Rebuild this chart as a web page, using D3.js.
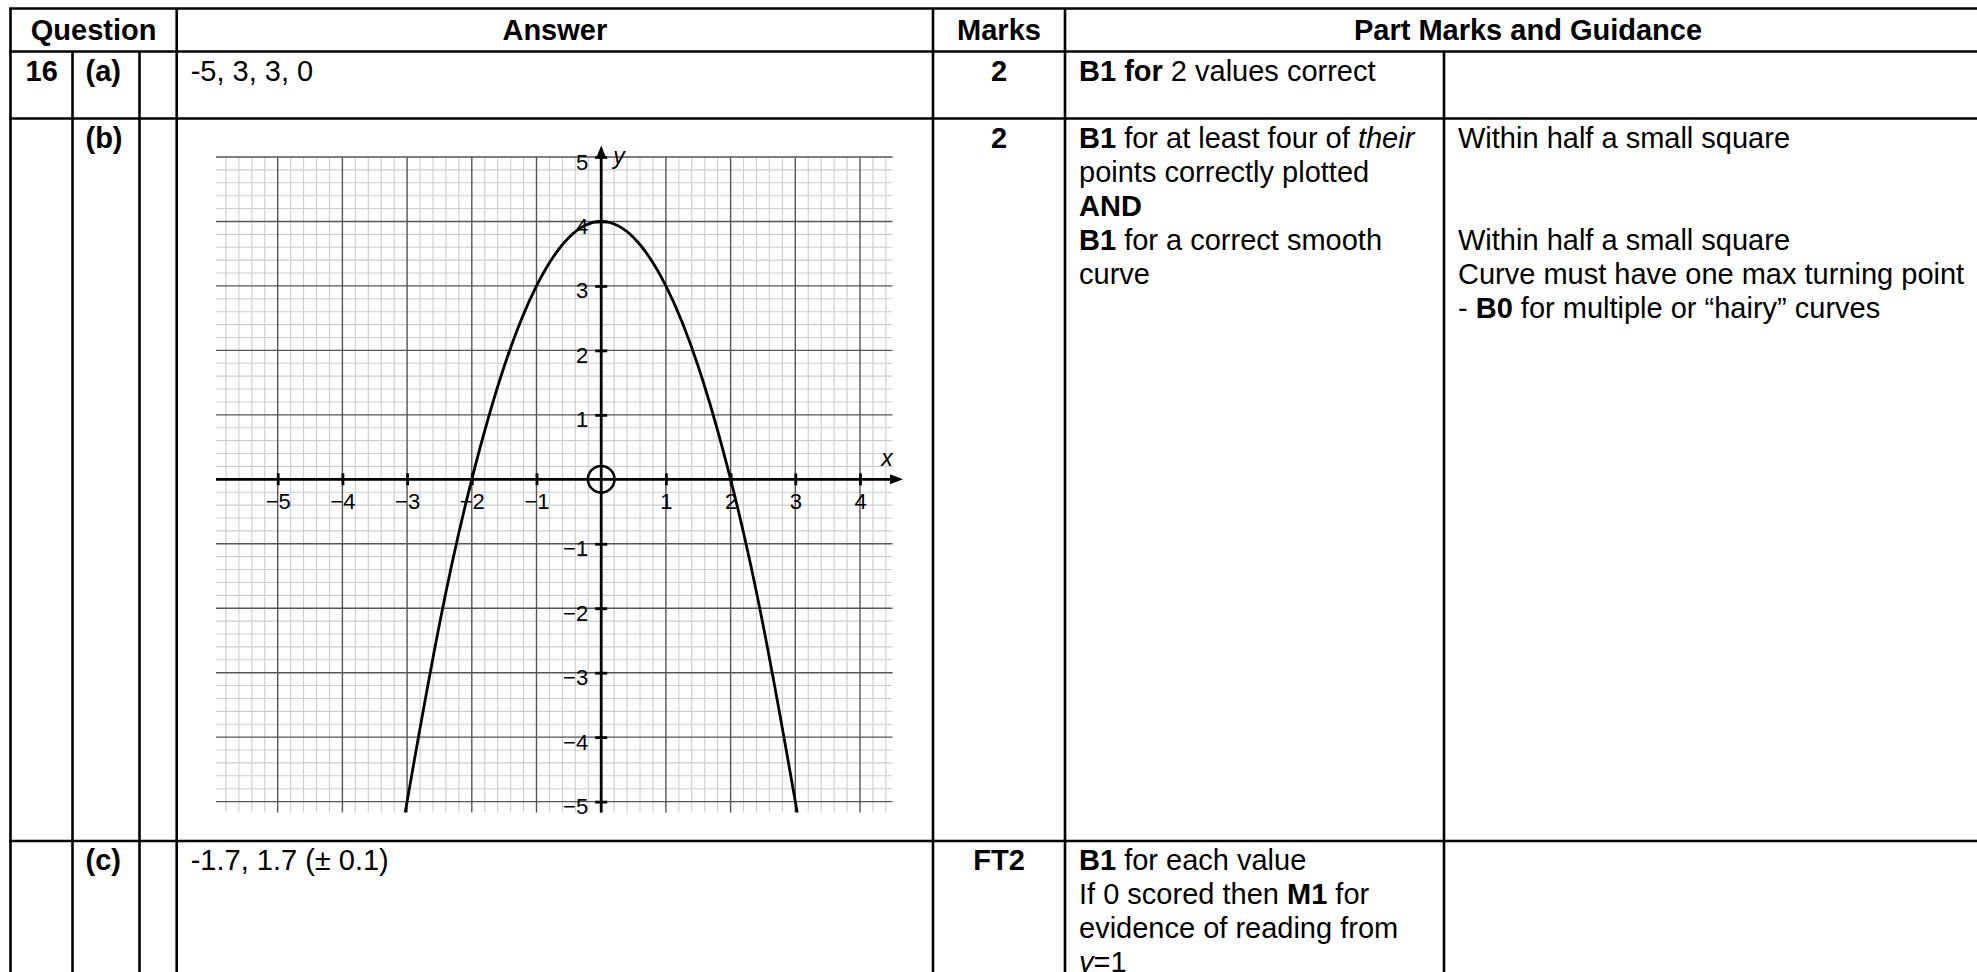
<!DOCTYPE html>
<html>
<head>
<meta charset="utf-8">
<script src="https://cdn.jsdelivr.net/npm/d3@7"></script>
<style>
    body { margin: 0; background: #fff; }
    svg { display: block; font-family: "Liberation Sans", Arial, sans-serif; }
</style>
</head>
<body>
<div id="chart"></div>
<script>
"use strict";

// points (x, y)
const curveX = [-3.1, -3, -2.5, -2, -1.5, -1, -0.5, 0, 0.5, 1, 1.5, 2, 2.5, 3, 3.1]
const curveY = [-5.61, -5, -2.25, 0, 1.75, 3, 3.75, 4, 3.75, 3, 1.75, 0, -2.25, -5, -5.61]

// axis tick values
const xTicks = [-5, -4, -3, -2, -1, 1, 2, 3, 4]
const yTicks = [-5, -4, -3, -2, -1, 1, 2, 3, 4, 5]

// table text, one entry per row (a), (b), (c)
const headers = ["Question", "Answer", "Marks", "Part Marks and Guidance"]
const questionNo = "16"
const partLabels = ["(a)", "(b)", "(c)"]
const answers = ["-5, 3, 3, 0", "", "-1.7, 1.7 (\u00b1 0.1)"]
const marks = ["2", "2", "FT2"]
const partMarks = [
    ["**B1 for** 2 values correct"],
    ["**B1** for at least four of _their_", "points correctly plotted", "**AND**", "**B1** for a correct smooth", "curve"],
    ["**B1** for each value", "If 0 scored then **M1** for", "evidence of reading from", "_y_=1"]
]
const guidance = [
    [],
    ["Within half a small square", "", "", "Within half a small square", "Curve must have one max turning point", "- **B0** for multiple or \u201chairy\u201d curves"],
    []
]

// layout
const W = 1977, H = 972
const cols = [10.5, 72.5, 139.5, 176.7, 933, 1065, 1444, 1991]
const rows = [8.5, 51.5, 118.5, 841, 1010]
const lineH = 34
const firstBase = 29

const svg = d3.select("#chart").append("svg")
    .attr("width", W)
    .attr("height", H)

// ---------- graph ----------
const x = d3.scaleLinear().domain([-5, 4]).range([277.7, 860])
const y = d3.scaleLinear().domain([5, -5]).range([157, 801.6])
const gridLeft = 216, gridRight = 892.5, gridBottom = 812.5

const graph = svg.append("g")

// minor grid (every 0.2)
const minorX = d3.range(-29, 23).map(i => i / 5).filter(v => Math.abs(v - Math.round(v)) > 1e-6)
const minorY = d3.range(-25, 26).map(i => i / 5).filter(v => Math.abs(v - Math.round(v)) > 1e-6)
graph.selectAll(".minor-v").data(minorX).enter().append("line")
    .attr("x1", d => x(d)).attr("x2", d => x(d))
    .attr("y1", y(5)).attr("y2", gridBottom)
    .attr("stroke", "#cdcdcd").attr("stroke-width", 1.1)
graph.selectAll(".minor-h").data(minorY).enter().append("line")
    .attr("x1", gridLeft).attr("x2", gridRight)
    .attr("y1", d => y(d)).attr("y2", d => y(d))
    .attr("stroke", "#cdcdcd").attr("stroke-width", 1.1)

// major grid (every unit)
graph.selectAll(".major-v").data(d3.range(-5, 5)).enter().append("line")
    .attr("x1", d => x(d)).attr("x2", d => x(d))
    .attr("y1", y(5)).attr("y2", gridBottom)
    .attr("stroke", "#555").attr("stroke-width", 1.4)
graph.selectAll(".major-h").data(d3.range(-5, 6)).enter().append("line")
    .attr("x1", gridLeft).attr("x2", gridRight)
    .attr("y1", d => y(d)).attr("y2", d => y(d))
    .attr("stroke", "#555").attr("stroke-width", 1.4)

// x axis
const fmt = d => d < 0 ? "\u2212" + Math.abs(d) : String(d)
const xAxis = graph.append("g")
    .attr("transform", "translate(0," + y(0) + ")")
    .call(d3.axisBottom(x).tickValues(xTicks).tickFormat(fmt).tickSize(6))
xAxis.select(".domain").remove()
xAxis.selectAll(".tick line").attr("y1", -6).attr("y2", 6)
    .attr("stroke", "#000").attr("stroke-width", 2.8)
xAxis.selectAll(".tick text")
    .attr("y", 30).attr("dy", null)
    .attr("font-size", 22).attr("font-family", "Liberation Sans, Arial, sans-serif")
    .attr("fill", "#000")

// y axis
const yAxis = graph.append("g")
    .attr("transform", "translate(" + x(0) + ",0)")
    .call(d3.axisLeft(y).tickValues(yTicks).tickFormat(fmt).tickSize(6))
yAxis.select(".domain").remove()
yAxis.selectAll(".tick line").attr("x1", -6).attr("x2", 6)
    .attr("stroke", "#000").attr("stroke-width", 2.8)
yAxis.selectAll(".tick text")
    .attr("x", -13).attr("y", 12).attr("dy", null)
    .attr("font-size", 22).attr("font-family", "Liberation Sans, Arial, sans-serif")
    .attr("fill", "#000")

// axis lines with arrows
graph.append("line")
    .attr("x1", gridLeft).attr("x2", 895)
    .attr("y1", y(0)).attr("y2", y(0))
    .attr("stroke", "#000").attr("stroke-width", 2.8)
graph.append("path")
    .attr("d", "M" + 903 + "," + y(0) + "L" + 890 + "," + (y(0) - 5) + "L" + 890 + "," + (y(0) + 5) + "Z")
    .attr("fill", "#000")
graph.append("line")
    .attr("x1", x(0)).attr("x2", x(0))
    .attr("y1", gridBottom).attr("y2", 154)
    .attr("stroke", "#000").attr("stroke-width", 2.8)
graph.append("path")
    .attr("d", "M" + x(0) + "," + 145.5 + "L" + (x(0) - 5) + "," + 158 + "L" + (x(0) + 5) + "," + 158 + "Z")
    .attr("fill", "#000")

graph.append("text")
    .attr("x", 887).attr("y", 466)
    .attr("text-anchor", "middle")
    .attr("font-size", 23).attr("font-style", "italic")
    .text("x")
graph.append("text")
    .attr("x", 619).attr("y", 164)
    .attr("text-anchor", "middle")
    .attr("font-size", 23).attr("font-style", "italic")
    .text("y")

// origin ring
graph.append("circle")
    .attr("cx", x(0)).attr("cy", y(0)).attr("r", 13.3)
    .attr("fill", "none").attr("stroke", "#000").attr("stroke-width", 2.6)

// the curve
svg.append("clipPath").attr("id", "gridClip")
    .append("rect")
    .attr("x", gridLeft).attr("y", 140)
    .attr("width", gridRight - gridLeft).attr("height", gridBottom - 140)
const pts = curveX.map((v, i) => [v, curveY[i]])
graph.append("path")
    .datum(pts)
    .attr("clip-path", "url(#gridClip)")
    .attr("d", d3.line().x(d => x(d[0])).y(d => y(d[1])).curve(d3.curveNatural))
    .attr("fill", "none").attr("stroke", "#000").attr("stroke-width", 2.8)

// ---------- table ----------
const table = svg.append("g")
const lineStyle = sel => sel.attr("stroke", "#000").attr("stroke-width", 2.6)

// horizontal rules
rows.slice(0, 4).forEach(r => {
    table.append("line").attr("x1", cols[0] - 1.3).attr("x2", cols[7])
        .attr("y1", r).attr("y2", r).call(lineStyle)
})
// vertical rules
;[0, 3, 4, 5, 7].forEach(c => {
    table.append("line").attr("x1", cols[c]).attr("x2", cols[c])
        .attr("y1", rows[0]).attr("y2", H + 10).call(lineStyle)
})
;[1, 2, 6].forEach(c => {
    table.append("line").attr("x1", cols[c]).attr("x2", cols[c])
        .attr("y1", rows[1]).attr("y2", H + 10).call(lineStyle)
})

// writes one line of text with **bold** and _italic_ runs
function richText(xPos, yPos, str, anchor) {
    const t = table.append("text")
        .attr("x", xPos).attr("y", yPos)
        .attr("font-size", 29)
        .attr("text-anchor", anchor || "start")
    str.split(/(\*\*[^*]+\*\*|_[^_]+_)/).filter(s => s.length).forEach(s => {
        const span = t.append("tspan")
        if (s.startsWith("**")) {
            span.attr("font-weight", "bold").text(s.slice(2, -2))
        } else if (s.startsWith("_") && s.endsWith("_") && s.length > 2) {
            span.attr("font-style", "italic").text(s.slice(1, -1))
        } else {
            span.text(s)
        }
    })
    return t
}

// header row
const hdrBase = rows[0] + 31
richText((cols[0] + cols[3]) / 2, hdrBase, "**" + headers[0] + "**", "middle")
richText((cols[3] + cols[4]) / 2, hdrBase, "**" + headers[1] + "**", "middle")
richText((cols[4] + cols[5]) / 2, hdrBase, "**" + headers[2] + "**", "middle")
richText((cols[5] + cols[7]) / 2, hdrBase, "**" + headers[3] + "**", "middle")

richText(cols[0] + 15, rows[1] + firstBase, "**" + questionNo + "**")

partLabels.forEach((lab, i) => {
    const base = rows[i + 1] + firstBase
    richText(cols[1] + 13, base, "**" + lab + "**")
    if (answers[i]) richText(cols[3] + 14, base, answers[i])
    richText((cols[4] + cols[5]) / 2, base, "**" + marks[i] + "**", "middle")
    partMarks[i].forEach((ln, j) => {
        if (ln) richText(cols[5] + 14, base + j * lineH, ln)
    })
    guidance[i].forEach((ln, j) => {
        if (ln) richText(cols[6] + 14, base + j * lineH, ln)
    })
})
</script>
</body>
</html>
